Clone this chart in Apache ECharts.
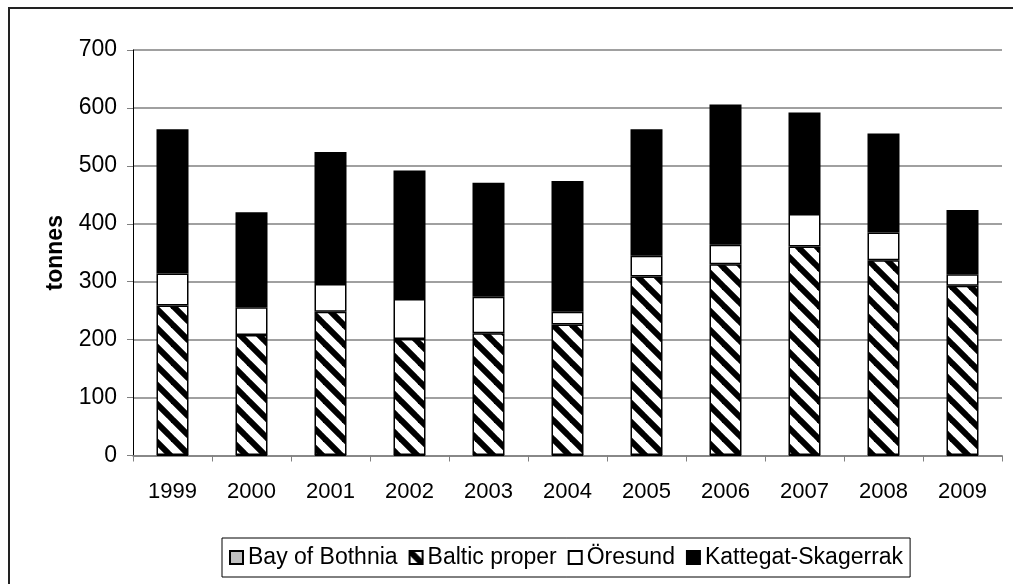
<!DOCTYPE html>
<html>
<head>
<meta charset="utf-8">
<script src="https://cdn.jsdelivr.net/npm/echarts@6/dist/echarts.min.js"></script>
<style>
  html, body { margin: 0; padding: 0; background: #fff; }
  #chart { width: 1013px; height: 584px; }
</style>
</head>
<body>
<div id="chart"></div>
<script>
// Catch in tonnes by sea area and year
const years = ['1999', '2000', '2001', '2002', '2003', '2004', '2005', '2006', '2007', '2008', '2009'];
const bayOfBothnia = [1, 1, 1, 1, 1, 1, 1, 1, 1, 1, 1];
const balticProper = [258, 207, 247, 200, 210, 225, 308, 329, 360, 336, 292];
const oresund = [55, 48, 48, 69, 63, 22, 36, 34, 56, 48, 20];
const kattegatSkagerrak = [249, 164, 228, 222, 197, 226, 218, 242, 175, 171, 111];
const yTicks = [0, 100, 200, 300, 400, 500, 600, 700];

// Diagonal black/white stripe fill for the Baltic proper segments
function stripePattern() {
  const P = 19;
  const c = document.createElement('canvas');
  c.width = P; c.height = P;
  const ctx = c.getContext('2d');
  ctx.fillStyle = '#fff';
  ctx.fillRect(0, 0, P, P);
  ctx.strokeStyle = '#000';
  ctx.lineWidth = 6;
  [-P, 0, P].forEach(function (o) {
    ctx.beginPath();
    ctx.moveTo(o - 2, -2);
    ctx.lineTo(o + P + 2, P + 2);
    ctx.stroke();
  });
  return c;
}

const FONT = 'Liberation Sans, Arial, sans-serif';
const chart = echarts.init(document.getElementById('chart'), null, { renderer: 'canvas' });

function barSeries(name, data, color) {
  return {
    name: name,
    type: 'bar',
    stack: 'total',
    data: data,
    barWidth: 32,
    itemStyle: { color: color, borderColor: '#000', borderWidth: 1.5 },
    emphasis: { disabled: true }
  };
}

chart.setOption({
  animation: false,
  graphic: [{
    type: 'rect',
    shape: { x: 9, y: 8, width: 1020, height: 600 },
    style: { fill: 'none', stroke: '#222', lineWidth: 2 },
    silent: true,
    z: -1
  }],
  grid: { left: 133, right: 11, top: 50, bottom: 128.5, containLabel: false },
  legend: {
    bottom: 7,
    left: 222,
    icon: 'rect',
    itemWidth: 13,
    itemHeight: 13,
    itemGap: 11,
    borderColor: '#000',
    borderWidth: 1,
    backgroundColor: '#fff',
    padding: [8, 7, 8, 7],
    textStyle: { fontFamily: FONT, fontSize: 23, color: '#000' },
    data: ['Bay of Bothnia', 'Baltic proper', 'Öresund', 'Kattegat-Skagerrak']
  },
  xAxis: {
    type: 'category',
    data: years,
    axisLine: { lineStyle: { color: '#808080', width: 1.5 } },
    axisTick: { show: true, length: 6, alignWithLabel: false, lineStyle: { color: '#808080' } },
    axisLabel: { fontFamily: FONT, fontSize: 22, color: '#000', margin: 25 }
  },
  yAxis: {
    type: 'value',
    min: yTicks[0],
    max: yTicks[yTicks.length - 1],
    interval: 100,
    name: 'tonnes',
    nameLocation: 'middle',
    nameGap: 66,
    nameTextStyle: { fontFamily: FONT, fontSize: 23, fontWeight: 'bold', color: '#000' },
    axisLine: { show: true, lineStyle: { color: '#000', width: 1 } },
    axisTick: { show: true, length: 6, lineStyle: { color: '#808080' } },
    axisLabel: { fontFamily: FONT, fontSize: 23, color: '#000', margin: 16 },
    splitLine: { lineStyle: { color: '#808080', width: 1.5 } }
  },
  series: [
    barSeries('Bay of Bothnia', bayOfBothnia, '#c0c0c0'),
    barSeries('Baltic proper', balticProper, { image: stripePattern(), repeat: 'repeat' }),
    barSeries('Öresund', oresund, '#ffffff'),
    barSeries('Kattegat-Skagerrak', kattegatSkagerrak, '#000000')
  ]
});
</script>
</body>
</html>
